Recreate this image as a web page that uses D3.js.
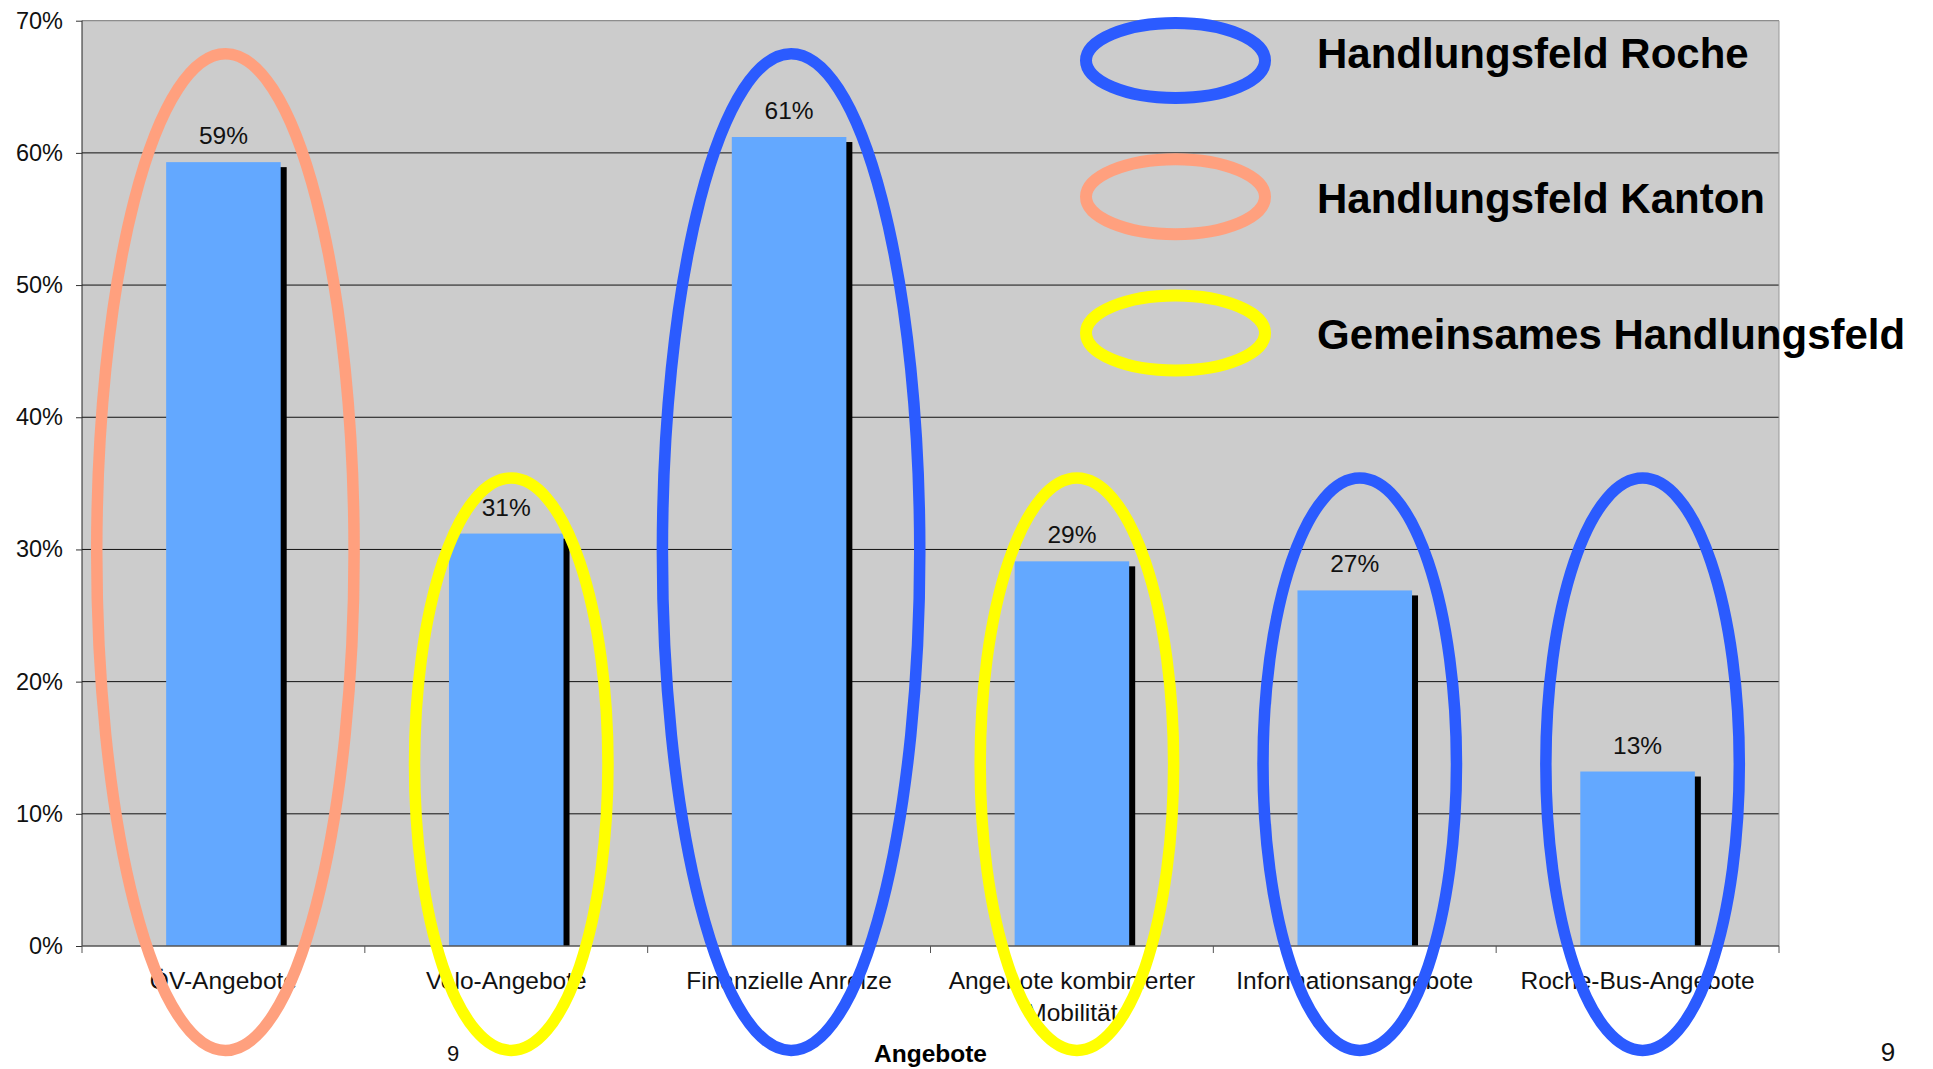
<!DOCTYPE html>
<html>
<head>
<meta charset="utf-8">
<script src="https://cdn.jsdelivr.net/npm/d3@7"></script>
<style>
  html, body { margin: 0; padding: 0; background: #fff; }
  svg { display: block; font-family: "Liberation Sans", Arial, sans-serif; }
</style>
</head>
<body>
<svg id="chart" width="1933" height="1069"></svg>
<script>
// ---- data ----
const categories = ["ÖV-Angebote", "Velo-Angebote", "Finanzielle Anreize",
  "Angebote kombinierter Mobilität", "Informationsangebote", "Roche-Bus-Angebote"];
const categoryLines = [["ÖV-Angebote"], ["Velo-Angebote"], ["Finanzielle Anreize"],
  ["Angebote kombinierter", "Mobilität"], ["Informationsangebote"], ["Roche-Bus-Angebote"]];
const values = [0.593, 0.312, 0.612, 0.291, 0.269, 0.132];
const valueLabels = ["59%", "31%", "61%", "29%", "27%", "13%"];
const yTicks = [0, 0.1, 0.2, 0.3, 0.4, 0.5, 0.6, 0.7];
const tickLabels = ["0%", "10%", "20%", "30%", "40%", "50%", "60%", "70%"];
const fieldOf = ["Kanton", "Gemeinsam", "Roche", "Gemeinsam", "Roche", "Roche"];
const ellipseTop = [0.675, 0.354, 0.675, 0.354, 0.354, 0.354];
const ellipseBottom = -0.079;
const fields = ["Roche", "Kanton", "Gemeinsam"];
const fieldNames = ["Handlungsfeld Roche", "Handlungsfeld Kanton", "Gemeinsames Handlungsfeld"];
const fieldColors = ["#2B5BFF", "#FFA07E", "#FFFF00"];
const axisTitle = "Angebote";

// ---- layout ----
const svg = d3.select("#chart");
const L = 82, R = 1779, T = 20.7, B = 946;
const x = d3.scaleBand().domain(categories).range([L, R]).padding(0);
const y = d3.scaleLinear().domain([0, 0.7]).range([B, T]);
const color = d3.scaleOrdinal().domain(fields).range(fieldColors);
const bw = x.bandwidth() * 0.405;
const cx = d => x(d) + x.bandwidth() / 2;

// plot background
svg.append("rect").attr("x", L).attr("y", T).attr("width", R - L).attr("height", B - T)
  .attr("fill", "#CCCCCC");

// gridlines
svg.append("g").selectAll("line").data(yTicks.slice(1)).join("line")
  .attr("x1", L).attr("x2", R).attr("y1", d => y(d)).attr("y2", d => y(d))
  .attr("stroke", d => d === 0.7 ? "#777" : "#111").attr("stroke-width", 1);
svg.append("line").attr("x1", R).attr("x2", R).attr("y1", T).attr("y2", B)
  .attr("stroke", "#999").attr("stroke-width", 1);

// bars with shadow
const bars = svg.append("g");
bars.selectAll("rect.shadow").data(values).join("rect").attr("class", "shadow")
  .attr("x", (d, i) => x(categories[i]) + (x.bandwidth() - bw) / 2 + 6)
  .attr("y", d => y(d) + 5)
  .attr("width", bw).attr("height", d => B - y(d) - 5)
  .attr("fill", "#000");
bars.selectAll("rect.bar").data(values).join("rect").attr("class", "bar")
  .attr("x", (d, i) => x(categories[i]) + (x.bandwidth() - bw) / 2)
  .attr("y", d => y(d))
  .attr("width", bw).attr("height", d => B - y(d))
  .attr("fill", "#63A8FF");

// value labels
svg.append("g").selectAll("text").data(values).join("text")
  .attr("x", (d, i) => cx(categories[i]))
  .attr("y", d => y(d) - 18)
  .attr("text-anchor", "middle").attr("font-size", 24.5).attr("fill", "#111")
  .text((d, i) => valueLabels[i]);

// y axis
const yAxis = d3.axisLeft(y).tickValues(yTicks).tickFormat((d, i) => tickLabels[i])
  .tickSize(6).tickPadding(13);
const gy = svg.append("g").attr("transform", `translate(${L},0)`).call(yAxis);
gy.select(".domain").attr("stroke", "#222").attr("d", `M0,${T}V${B}`);
gy.selectAll(".tick line").attr("stroke", "#333");
gy.selectAll("text").attr("font-size", 23.5).attr("fill", "#111")
  .attr("font-family", "Liberation Sans, Arial, sans-serif");

// x axis (ticks at category boundaries)
const boundaries = categories.map(c => x(c)).concat([R]);
svg.append("line").attr("x1", L).attr("x2", R).attr("y1", B).attr("y2", B)
  .attr("stroke", "#555").attr("stroke-width", 1.5);
svg.append("g").selectAll("line").data(boundaries).join("line")
  .attr("x1", d => d).attr("x2", d => d).attr("y1", B).attr("y2", B + 7)
  .attr("stroke", "#555").attr("stroke-width", 1);

// category labels
const cl = svg.append("g").selectAll("text").data(categories).join("text")
  .attr("x", d => cx(d))
  .attr("y", 989)
  .attr("text-anchor", "middle").attr("font-size", 24.5).attr("fill", "#111");
cl.each(function(d, i) {
  const t = d3.select(this);
  categoryLines[i].forEach((ln, k) => {
    t.append("tspan").attr("x", cx(d)).attr("dy", k === 0 ? 0 : 31.5).text(ln);
  });
});

// axis title
svg.append("text").attr("x", (L + R) / 2).attr("y", 1062).attr("text-anchor", "middle")
  .attr("font-size", 24.5).attr("font-weight", "bold").attr("fill", "#000").text(axisTitle);

// page numbers
svg.append("text").attr("x", 453).attr("y", 1061).attr("text-anchor", "middle")
  .attr("font-size", 22).attr("fill", "#111").text("9");
svg.append("text").attr("x", 1888).attr("y", 1061).attr("text-anchor", "middle")
  .attr("font-size", 26).attr("fill", "#111").text("9");

// highlight ellipses
svg.append("g").selectAll("ellipse").data(categories).join("ellipse")
  .attr("cx", (d, i) => cx(d) + (ellipseTop[i] > 0.5 ? 2 : 5))
  .attr("cy", (d, i) => (y(ellipseTop[i]) + y(ellipseBottom)) / 2)
  .attr("ry", (d, i) => (y(ellipseBottom) - y(ellipseTop[i])) / 2)
  .attr("rx", (d, i) => x.bandwidth() * (ellipseTop[i] > 0.5 ? 0.455 : 0.342))
  .attr("fill", "none").attr("stroke", (d, i) => color(fieldOf[i])).attr("stroke-width", 11.5);

// legend
const legendY = [60.5, 196.7, 333];
const legendTextY = [68, 213, 349];
const lg = svg.append("g");
lg.selectAll("ellipse").data(fields).join("ellipse")
  .attr("cx", 1175.5).attr("cy", (d, i) => legendY[i]).attr("rx", 89.5).attr("ry", 37.5)
  .attr("fill", "none").attr("stroke", d => color(d)).attr("stroke-width", 12);
lg.selectAll("text").data(fields).join("text")
  .attr("x", 1317).attr("y", (d, i) => legendTextY[i])
  .attr("font-size", 42).attr("font-weight", "bold").attr("fill", "#000")
  .text((d, i) => fieldNames[i]);
</script>
</body>
</html>
